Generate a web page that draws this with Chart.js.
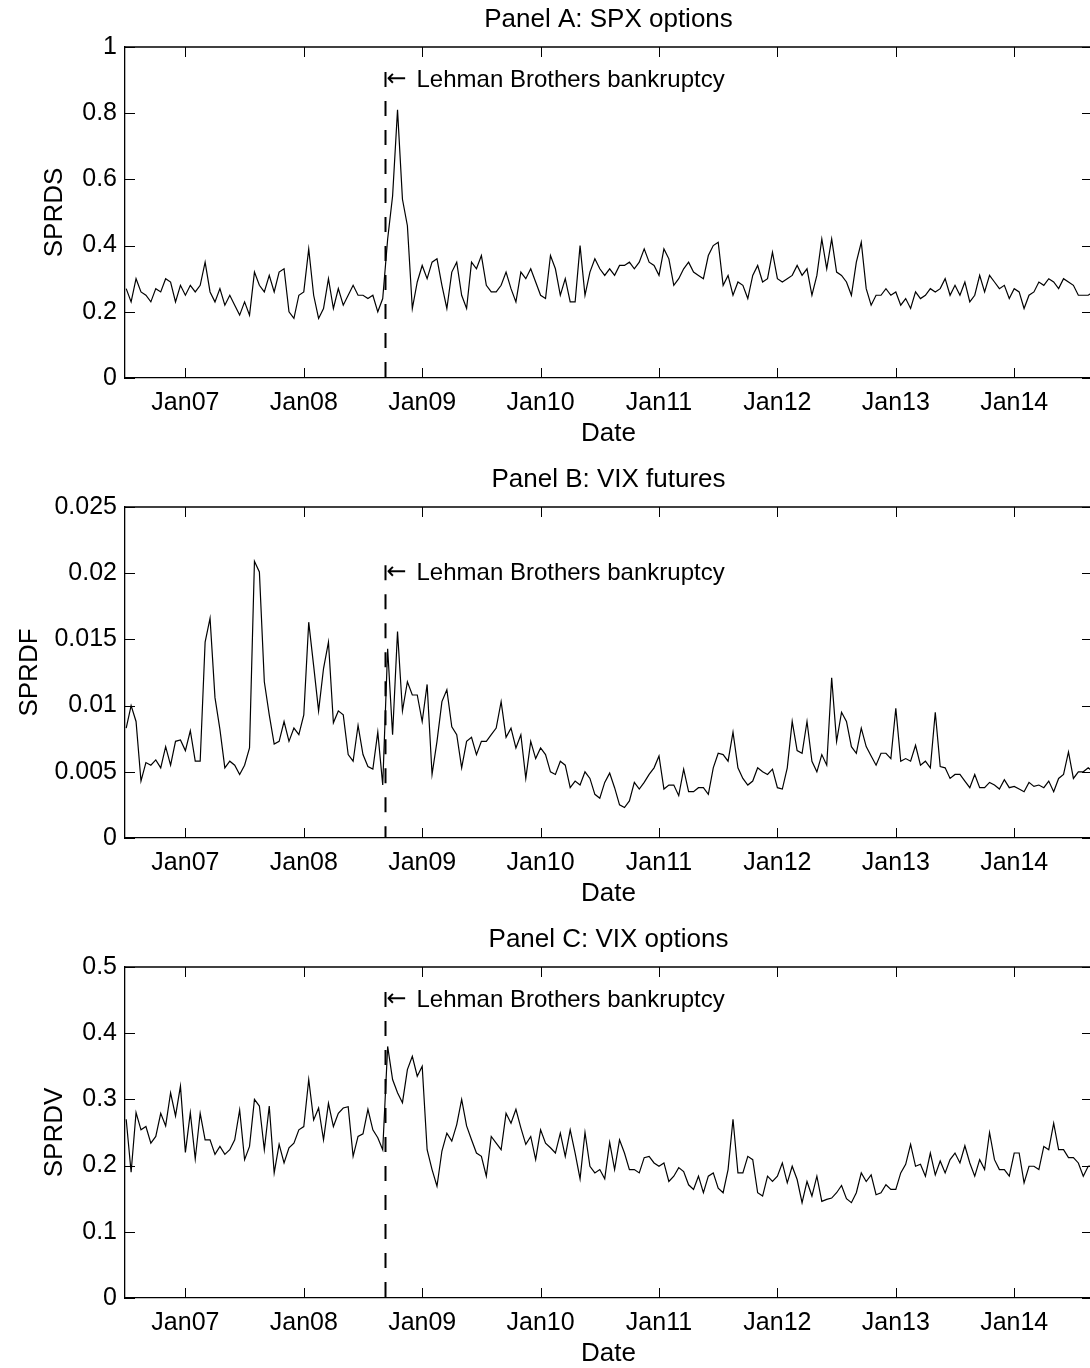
<!DOCTYPE html>
<html>
<head>
<meta charset="utf-8">
<script src="https://cdn.jsdelivr.net/npm/chart.js@4.4.1/dist/chart.umd.min.js"></script>
<style>
    html, body { margin: 0; padding: 0; background: #fff; overflow: hidden; }
    .panel { position: absolute; left: 0; width: 1092px; height: 460px; }
</style>
</head>
<body>
<div class="panel" style="top:0px"><canvas id="panel-a" width="1092" height="460"></canvas></div>
<div class="panel" style="top:460px"><canvas id="panel-b" width="1092" height="460"></canvas></div>
<div class="panel" style="top:920px"><canvas id="panel-c" width="1092" height="460"></canvas></div>
<script>
// semi-monthly readings, first one at July 2006
const sampleStart = 2006.5;
const sampleStep = 1 / 24;

const yearTicks = [2007, 2008, 2009, 2010, 2011, 2012, 2013, 2014];
const yearLabels = ['Jan07', 'Jan08', 'Jan09', 'Jan10', 'Jan11', 'Jan12', 'Jan13', 'Jan14'];

const lehmanDate = 2008.69;

const sprdsValues = [
    0.27, 0.23, 0.30, 0.26, 0.25, 0.23, 0.27, 0.26, 0.30, 0.29,
    0.23, 0.28, 0.25, 0.28, 0.26, 0.28, 0.35, 0.26, 0.23, 0.27,
    0.22, 0.25, 0.22, 0.19, 0.23, 0.19, 0.32, 0.28, 0.26, 0.31,
    0.26, 0.32, 0.33, 0.20, 0.18, 0.25, 0.26, 0.39, 0.25, 0.18,
    0.21, 0.30, 0.21, 0.27, 0.22, 0.25, 0.28, 0.25, 0.25, 0.24,
    0.25, 0.20, 0.24, 0.42, 0.55, 0.81, 0.54, 0.46, 0.21, 0.29,
    0.34, 0.30, 0.35, 0.36, 0.28, 0.21, 0.32, 0.35, 0.25, 0.21,
    0.35, 0.33, 0.37, 0.28, 0.26, 0.26, 0.28, 0.32, 0.27, 0.23,
    0.32, 0.30, 0.33, 0.29, 0.25, 0.24, 0.37, 0.33, 0.25, 0.30,
    0.23, 0.23, 0.40, 0.25, 0.32, 0.36, 0.33, 0.31, 0.33, 0.31,
    0.34, 0.34, 0.35, 0.33, 0.35, 0.39, 0.35, 0.34, 0.31, 0.39,
    0.36, 0.28, 0.30, 0.33, 0.35, 0.32, 0.31, 0.30, 0.37, 0.40,
    0.41, 0.28, 0.31, 0.25, 0.29, 0.28, 0.24, 0.31, 0.34, 0.29,
    0.30, 0.38, 0.30, 0.29, 0.30, 0.31, 0.34, 0.31, 0.33, 0.25,
    0.31, 0.42, 0.33, 0.42, 0.32, 0.31, 0.29, 0.25, 0.35, 0.41,
    0.27, 0.22, 0.25, 0.25, 0.27, 0.25, 0.26, 0.22, 0.24, 0.21,
    0.26, 0.24, 0.25, 0.27, 0.26, 0.27, 0.30, 0.25, 0.28, 0.25,
    0.29, 0.23, 0.25, 0.31, 0.26, 0.31, 0.29, 0.27, 0.28, 0.24,
    0.27, 0.26, 0.21, 0.25, 0.26, 0.29, 0.28, 0.30, 0.29, 0.27,
    0.30, 0.29, 0.28, 0.25, 0.25, 0.25, 0.26
];

const sprdfValues = [
    0.0083, 0.0100, 0.0088, 0.0043, 0.0057, 0.0055, 0.0059, 0.0053, 0.0069, 0.0055,
    0.0073, 0.0074, 0.0066, 0.0081, 0.0058, 0.0058, 0.0148, 0.0166, 0.0106, 0.0082,
    0.0053, 0.0058, 0.0055, 0.0048, 0.0055, 0.0068, 0.0209, 0.0201, 0.0118, 0.0093,
    0.0071, 0.0073, 0.0088, 0.0073, 0.0083, 0.0078, 0.0093, 0.0163, 0.0130, 0.0096,
    0.0128, 0.0148, 0.0087, 0.0096, 0.0093, 0.0063, 0.0058, 0.0085, 0.0063, 0.0054,
    0.0052, 0.0080, 0.0040, 0.0143, 0.0078, 0.0156, 0.0096, 0.0118, 0.0108, 0.0108,
    0.0088, 0.0116, 0.0048, 0.0073, 0.0103, 0.0112, 0.0084, 0.0078, 0.0053, 0.0073,
    0.0076, 0.0063, 0.0073, 0.0073, 0.0078, 0.0083, 0.0103, 0.0076, 0.0083, 0.0068,
    0.0078, 0.0045, 0.0073, 0.0060, 0.0068, 0.0063, 0.0050, 0.0048, 0.0058, 0.0055,
    0.0038, 0.0043, 0.0040, 0.0050, 0.0045, 0.0033, 0.0030, 0.0042, 0.0049, 0.0038,
    0.0025, 0.0023, 0.0028, 0.0042, 0.0037, 0.0042, 0.0048, 0.0053, 0.0062, 0.0037,
    0.0040, 0.0040, 0.0032, 0.0052, 0.0035, 0.0035, 0.0038, 0.0038, 0.0033, 0.0053,
    0.0064, 0.0063, 0.0058, 0.0080, 0.0053, 0.0045, 0.0040, 0.0043, 0.0053, 0.0050,
    0.0048, 0.0052, 0.0038, 0.0037, 0.0053, 0.0088, 0.0066, 0.0064, 0.0088, 0.0058,
    0.0050, 0.0063, 0.0055, 0.0121, 0.0073, 0.0095, 0.0088, 0.0069, 0.0064, 0.0083,
    0.0069, 0.0062, 0.0055, 0.0064, 0.0064, 0.0060, 0.0098, 0.0058, 0.0060, 0.0058,
    0.0070, 0.0055, 0.0058, 0.0053, 0.0095, 0.0054, 0.0053, 0.0045, 0.0048, 0.0048,
    0.0043, 0.0038, 0.0048, 0.0038, 0.0038, 0.0042, 0.0040, 0.0037, 0.0044, 0.0038,
    0.0039, 0.0037, 0.0035, 0.0042, 0.0039, 0.0040, 0.0038, 0.0043, 0.0035, 0.0045,
    0.0048, 0.0065, 0.0045, 0.0050, 0.0050, 0.0053, 0.0050
];

const sprdvValues = [
    0.27, 0.19, 0.28, 0.254, 0.259, 0.234, 0.244, 0.279, 0.26, 0.31,
    0.275, 0.32, 0.22, 0.28, 0.21, 0.279, 0.239, 0.239, 0.217, 0.229,
    0.217, 0.224, 0.239, 0.284, 0.209, 0.229, 0.30, 0.29, 0.224, 0.29,
    0.189, 0.232, 0.204, 0.227, 0.234, 0.254, 0.259, 0.33, 0.269, 0.287,
    0.239, 0.294, 0.259, 0.279, 0.287, 0.289, 0.214, 0.244, 0.248, 0.285,
    0.254, 0.242, 0.224, 0.38, 0.33, 0.31, 0.295, 0.345, 0.365, 0.335,
    0.35, 0.224, 0.194, 0.169, 0.222, 0.249, 0.237, 0.262, 0.30, 0.26,
    0.239, 0.219, 0.214, 0.184, 0.244, 0.234, 0.224, 0.279, 0.264, 0.285,
    0.257, 0.232, 0.244, 0.209, 0.254, 0.234, 0.227, 0.219, 0.249, 0.214,
    0.254, 0.219, 0.18, 0.25, 0.199, 0.189, 0.194, 0.18, 0.235, 0.194,
    0.239, 0.219, 0.194, 0.194, 0.189, 0.212, 0.214, 0.204, 0.199, 0.204,
    0.176, 0.184, 0.197, 0.191, 0.171, 0.164, 0.184, 0.159, 0.184, 0.189,
    0.166, 0.159, 0.194, 0.27, 0.189, 0.189, 0.214, 0.209, 0.159, 0.154,
    0.184, 0.176, 0.184, 0.204, 0.174, 0.199, 0.179, 0.144, 0.176, 0.154,
    0.184, 0.146, 0.149, 0.151, 0.159, 0.17, 0.15, 0.144, 0.159, 0.189,
    0.176, 0.186, 0.156, 0.159, 0.171, 0.164, 0.164, 0.189, 0.202, 0.232,
    0.199, 0.202, 0.184, 0.219, 0.186, 0.207, 0.189, 0.209, 0.219, 0.204,
    0.23, 0.204, 0.184, 0.209, 0.194, 0.25, 0.209, 0.194, 0.194, 0.184,
    0.219, 0.219, 0.174, 0.199, 0.199, 0.194, 0.229, 0.224, 0.264, 0.224,
    0.224, 0.212, 0.212, 0.204, 0.184, 0.199, 0.20
];

const yTicksA = [0, 0.2, 0.4, 0.6, 0.8, 1];
const yTicksB = [0, 0.005, 0.01, 0.015, 0.02, 0.025];
const yTicksC = [0, 0.1, 0.2, 0.3, 0.4, 0.5];

// y value where the Lehman note sits in each panel
const noteValues = [0.9, 0.02, 0.45];

const FONT = "'Liberation Sans', Arial, Helvetica, sans-serif";
const TICK_SIZE = 25;
const LABEL_SIZE = 26;
const NOTE_SIZE = 24;

const framePlugin = {
    id: 'frame',
    afterDraw(chart, args, opts) {
        const { ctx, chartArea, scales } = chart;
        const { left, right, top, bottom } = chartArea;
        const x = scales.x;
        const y = scales.y;

        ctx.save();
        ctx.strokeStyle = '#000';

        // top border (box on)
        ctx.lineWidth = 1.3;
        ctx.beginPath();
        ctx.moveTo(left, top);
        ctx.lineTo(right, top);
        ctx.stroke();

        // inward tick marks on all four sides
        ctx.lineWidth = 1;
        ctx.beginPath();
        x.ticks.forEach(t => {
            const px = Math.round(x.getPixelForValue(t.value)) + 0.5;
            ctx.moveTo(px, bottom);
            ctx.lineTo(px, bottom - 10);
            ctx.moveTo(px, top);
            ctx.lineTo(px, top + 10);
        });
        y.ticks.forEach(t => {
            const py = Math.round(y.getPixelForValue(t.value)) + 0.5;
            ctx.moveTo(left, py);
            ctx.lineTo(left + 10, py);
            ctx.moveTo(right, py);
            ctx.lineTo(right - 10, py);
        });
        ctx.stroke();

        // Lehman marker
        const lx = Math.round(x.getPixelForValue(lehmanDate)) + 0.5;
        const ny = y.getPixelForValue(opts.noteValue);
        ctx.lineWidth = 2;
        ctx.setLineDash([15, 14]);
        ctx.beginPath();
        ctx.moveTo(lx, ny - 8);
        ctx.lineTo(lx, bottom);
        ctx.stroke();
        ctx.setLineDash([]);

        ctx.fillStyle = '#000';
        ctx.textBaseline = 'middle';
        ctx.textAlign = 'left';
        ctx.font = NOTE_SIZE + "px 'DejaVu Sans', sans-serif";
        ctx.fillText('\u2190', lx + 1, ny);
        ctx.font = NOTE_SIZE + 'px ' + FONT;
        ctx.fillText('Lehman Brothers bankruptcy', lx + 31, ny);

        // panel title
        ctx.font = LABEL_SIZE + 'px ' + FONT;
        ctx.textAlign = 'center';
        ctx.fillText(opts.title, (left + right) / 2, 20);
        ctx.restore();
    }
};

function makePoints(values) {
    return values.map((v, i) => ({ x: sampleStart + i * sampleStep, y: v }));
}

function renderPanel(canvasId, title, yLabel, values, yTicks, noteValue, yTitlePad) {
    const ctx = document.getElementById(canvasId);

    return new Chart(ctx, {
        type: 'line',
        data: {
            datasets: [{
                data: makePoints(values),
                borderColor: '#000',
                borderWidth: 1.2,
                pointRadius: 0,
                tension: 0,
                fill: false
            }]
        },
        options: {
            responsive: false,
            animation: false,
            layout: {
                padding: { top: 47, right: 0, bottom: 0, left: 0 }
            },
            plugins: {
                legend: { display: false },
                tooltip: { enabled: false },
                frame: { title: title, noteValue: noteValue }
            },
            scales: {
                x: {
                    type: 'linear',
                    min: 2006.49,
                    max: 2014.657,
                    grid: { display: false, drawTicks: false },
                    border: { display: true, color: '#000', width: 1.3 },
                    afterBuildTicks: (scale) => {
                        scale.ticks = yearTicks.map(v => ({ value: v }));
                    },
                    afterFit: (scale) => {
                        scale.height = 82;
                    },
                    ticks: {
                        color: '#000',
                        padding: 10,
                        maxRotation: 0,
                        autoSkip: false,
                        font: { family: FONT, size: TICK_SIZE },
                        callback: (value) => yearLabels[yearTicks.indexOf(value)]
                    },
                    title: {
                        display: true,
                        text: 'Date',
                        color: '#000',
                        padding: { top: 0, bottom: 10.4 },
                        font: { family: FONT, size: LABEL_SIZE }
                    }
                },
                y: {
                    min: yTicks[0],
                    max: yTicks[yTicks.length - 1],
                    grid: { display: false, drawTicks: false },
                    border: { display: true, color: '#000', width: 1.3 },
                    afterBuildTicks: (scale) => {
                        scale.ticks = yTicks.map(v => ({ value: v }));
                    },
                    afterFit: (scale) => {
                        scale.width = 125;
                    },
                    ticks: {
                        color: '#000',
                        padding: 8,
                        autoSkip: false,
                        font: { family: FONT, size: TICK_SIZE },
                        callback: (value) => String(Number(value.toFixed(3)))
                    },
                    title: {
                        display: true,
                        text: yLabel,
                        color: '#000',
                        padding: { top: yTitlePad, bottom: 0 },
                        font: { family: FONT, size: LABEL_SIZE }
                    }
                }
            }
        },
        plugins: [framePlugin]
    });
}

renderPanel('panel-a', 'Panel A: SPX options', 'SPRDS', sprdsValues, yTicksA, noteValues[0], 39.4);
renderPanel('panel-b', 'Panel B: VIX futures', 'SPRDF', sprdfValues, yTicksB, noteValues[1], 14.4);
renderPanel('panel-c', 'Panel C: VIX options', 'SPRDV', sprdvValues, yTicksC, noteValues[2], 39.4);
</script>
</body>
</html>
